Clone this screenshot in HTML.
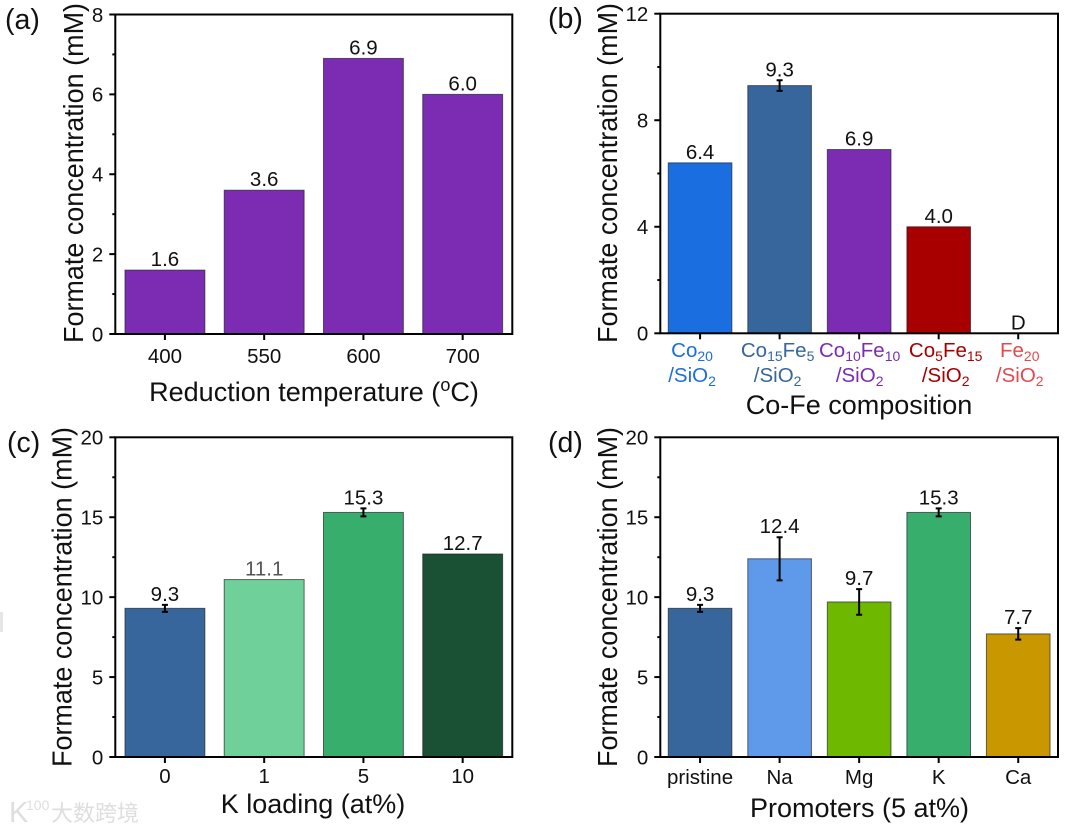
<!DOCTYPE html>
<html lang="en">
<head>
<meta charset="utf-8">
<title>Formate concentration bar charts</title>
<style>
html,body{margin:0;padding:0;background:#fff;width:1069px;height:830px;overflow:hidden}
svg{display:block;position:absolute;left:0;top:0;filter:blur(0.35px)}
text{font-family:"Liberation Sans","Noto Sans CJK SC",sans-serif;fill:#111}
</style>
</head>
<body>
<svg id="fig" xmlns="http://www.w3.org/2000/svg" width="1069" height="830" viewBox="0 0 1069 830">
  <rect x="0" y="612" width="3" height="20" fill="#e6e6e6"></rect>
  <g>
    <text x="9" y="822" font-size="29" style="fill:#dedede">K</text>
    <text x="26" y="810" font-size="14" style="fill:#dedede">100</text>
    <text x="51" y="821" font-size="22" style="fill:#dedede">大数跨境</text>
  </g>
</svg>
<script>
// Panel (a)
var aCategories = ['400', '550', '600', '700'];
var aValues = [1.6, 3.6, 6.9, 6.0];
var aLabels = ['1.6', '3.6', '6.9', '6.0'];
var aErrors = [0, 0, 0, 0];
var aTicks = [0, 2, 4, 6, 8];
var aMinorTicks = [1, 3, 5, 7];
var aColors = ['#7B2CB3', '#7B2CB3', '#7B2CB3', '#7B2CB3'];

// Panel (b)
var bCategories = ['Co20', 'Co15Fe5', 'Co10Fe10', 'Co5Fe15', 'Fe20'];
var bSecondLine = ['/SiO2', '/SiO2', '/SiO2', '/SiO2', '/SiO2'];
var bValues = [6.4, 9.3, 6.9, 4.0, 0];
var bLabels = ['6.4', '9.3', '6.9', '4.0', 'D'];
var bErrors = [0, 0.2, 0, 0, 0];
var bTicks = [0, 4, 8, 12];
var bMinorTicks = [2, 6, 10];
var bColors = ['#1A6EDF', '#36669C', '#7B2CB3', '#A80000', '#E5484D'];
var bLabelNudge = [-8, -2, 0.5, 7, 1.5];

// Panel (c)
var cCategories = ['0', '1', '5', '10'];
var cValues = [9.3, 11.1, 15.3, 12.7];
var cLabels = ['9.3', '11.1', '15.3', '12.7'];
var cErrors = [0.22, 0, 0.25, 0];
var cTicks = [0, 5, 10, 15, 20];
var cMinorTicks = [2.5, 7.5, 12.5, 17.5];
var cColors = ['#36669C', '#70D09A', '#38AE6C', '#1A5034'];

// Panel (d)
var dCategories = ['pristine', 'Na', 'Mg', 'K', 'Ca'];
var dValues = [9.3, 12.4, 9.7, 15.3, 7.7];
var dLabels = ['9.3', '12.4', '9.7', '15.3', '7.7'];
var dErrors = [0.22, 1.35, 0.8, 0.25, 0.36];
var dTicks = [0, 5, 10, 15, 20];
var dMinorTicks = [2.5, 7.5, 12.5, 17.5];
var dColors = ['#36669C', '#5E9AE9', '#6FB800', '#38AE6C', '#C99700'];

var SVGNS = 'http://www.w3.org/2000/svg';
var root = document.getElementById('fig');

function make(tag, attrs, parent, txt) {
  var el = document.createElementNS(SVGNS, tag);
  for (var k in attrs) el.setAttribute(k, attrs[k]);
  if (txt !== undefined) el.textContent = txt;
  (parent || root).appendChild(el);
  return el;
}

// Writes text into a <text>, turning digits that follow letters into subscripts
function chemText(node, str, subSize) {
  var parts = str.split(/(\d+)/);
  parts.forEach(function (p, i) {
    if (!p) return;
    var isSub = i % 2 === 1;
    var span = make('tspan', isSub ? {'font-size': subSize, dy: 4} : {dy: (i > 0 ? -4 : 0)}, node, p);
    
    
  });
}

function drawPanel(p) {
  var g = make('g', {});
  
  

  var n = p.categories.length;
  var step = (p.x1 - p.x0) / n;
  var barW = step * p.barFrac;
  function xScale(i) { return p.x0 + step * (i + 0.5); }
  function yScale(v) { return p.y0 + (p.y1 - p.y0) * (v - p.ymin) / (p.ymax - p.ymin); }

  p.values.forEach(function (v, i) {
    if (v <= 0) return;
    var bar = make('rect', {
      x: xScale(i) - barW / 2, y: yScale(v), width: barW, height: yScale(p.ymin) - yScale(v),
      fill: p.colors[i], stroke: '#1c1c2a', 'stroke-opacity': 0.65, 'stroke-width': 1
    }, g);
    
    
  });

  p.errors.forEach(function (e, i) {
    if (!e) return;
    var cx = xScale(i);
    var top = yScale(p.values[i] + e);
    var bot = yScale(p.values[i] - e);
    var err = make('path', {
      d: 'M' + cx + ' ' + top + 'V' + bot + 'M' + (cx - 3) + ' ' + top + 'H' + (cx + 3) + 'M' + (cx - 3) + ' ' + bot + 'H' + (cx + 3),
      stroke: '#000', 'stroke-width': 2, fill: 'none'
    }, g);
    
    
  });

  p.labels.forEach(function (t, i) {
    var ref = yScale(p.values[i] + (p.errors[i] || 0));
    var lab = make('text', {
      x: xScale(i), y: ref - 4, 'text-anchor': 'middle', 'font-size': p.fontSize
    }, g, t);
    if (p.labelColors && p.labelColors[i]) lab.style.fill = p.labelColors[i];
    
    
  });

  var frame = make('rect', {
    x: p.x0, y: p.y1, width: p.x1 - p.x0, height: p.y0 - p.y1,
    fill: 'none', stroke: '#000', 'stroke-width': 2
  }, g);
  
  

  p.ticks.forEach(function (v) {
    var y = yScale(v);
    var tick = make('line', {x1: p.x0 - 6, x2: p.x0, y1: y, y2: y, stroke: '#000', 'stroke-width': 2}, g);
    
    
    var lab = make('text', {x: p.x0 - 12, y: y + 7.3, 'text-anchor': 'end', 'font-size': p.fontSize}, g, String(v));
    
    
  });

  p.minorTicks.forEach(function (v) {
    var y = yScale(v);
    var tick = make('line', {x1: p.x0 - 3, x2: p.x0, y1: y, y2: y, stroke: '#000', 'stroke-width': 2}, g);
    
    
  });

  p.categories.forEach(function (c, i) {
    var x = xScale(i);
    var tick = make('line', {x1: x, x2: x, y1: p.y0, y2: p.y0 + 6, stroke: '#000', 'stroke-width': 2}, g);
    
    
    if (p.secondLine) {
      var lx = x + p.labelNudge[i];
      var l1 = make('text', {x: lx, y: 357, 'text-anchor': 'middle', 'font-size': p.fontSize}, g);
      l1.style.fill = p.colors[i];
      chemText(l1, c, 14);
      
      
      var l2 = make('text', {x: lx, y: 382, 'text-anchor': 'middle', 'font-size': p.fontSize}, g);
      l2.style.fill = p.colors[i];
      chemText(l2, p.secondLine[i], 14);
      
      
    } else {
      var lab = make('text', {x: x, y: p.tickBase, 'text-anchor': 'middle', 'font-size': p.fontSize}, g, c);
      
      
    }
  });

  var xt = make('text', {x: p.xTitleX, y: p.xTitleY, 'text-anchor': 'middle', 'font-size': 27}, g);
  
  
  if (p.xTitleSup) {
    xt.appendChild(document.createTextNode(p.xTitle[0]));
    var sup = make('tspan', {'font-size': 18, dy: -10}, xt, p.xTitleSup);
    
    
    var rest = make('tspan', {dy: 10}, xt, p.xTitle[1]);
    
    
  } else {
    xt.textContent = p.xTitle;
  }

  var yt = make('text', {
    x: 0, y: 0, 'text-anchor': 'middle', 'font-size': 28, textLength: 340, lengthAdjust: 'spacingAndGlyphs',
    transform: 'translate(' + p.yTitleX + ' ' + p.yTitleY + ') rotate(-90)'
  }, g, 'Formate concentration (mM)');
  
  

  var letter = make('text', {x: p.letterX, y: p.letterY, 'font-size': 28.5}, g, '(' + p.id + ')');
  
  
}

drawPanel({
  id: 'a', x0: 115.3, x1: 512.3, y0: 334, y1: 14.5, ymin: 0, ymax: 8, barFrac: 0.805, fontSize: 20.5,
  categories: aCategories, values: aValues, labels: aLabels, errors: aErrors, ticks: aTicks, minorTicks: aMinorTicks, colors: aColors,
  tickBase: 363, xTitle: ['Reduction temperature (', 'C)'], xTitleSup: 'o', xTitleX: 314, xTitleY: 401,
  yTitleX: 83, yTitleY: 173, letterX: 5, letterY: 29
});
drawPanel({
  id: 'b', x0: 660.3, x1: 1058, y0: 333.3, y1: 13.7, ymin: 0, ymax: 12, barFrac: 0.8, fontSize: 20.5,
  categories: bCategories, secondLine: bSecondLine, labelNudge: bLabelNudge, values: bValues, labels: bLabels, errors: bErrors, ticks: bTicks, minorTicks: bMinorTicks, colors: bColors,
  xTitle: 'Co-Fe composition', xTitleX: 859, xTitleY: 414,
  yTitleX: 617, yTitleY: 173, letterX: 548, letterY: 28
});
drawPanel({
  id: 'c', x0: 115.3, x1: 512.3, y0: 757, y1: 437.3, ymin: 0, ymax: 20, barFrac: 0.805, fontSize: 20.5,
  categories: cCategories, values: cValues, labels: cLabels, labelColors: ['', '#555', '', ''], errors: cErrors, ticks: cTicks, minorTicks: cMinorTicks, colors: cColors,
  tickBase: 783, xTitle: 'K loading (at%)', xTitleX: 313, xTitleY: 813,
  yTitleX: 71.5, yTitleY: 597, letterX: 7, letterY: 452
});
drawPanel({
  id: 'd', x0: 660.3, x1: 1058, y0: 757, y1: 437.3, ymin: 0, ymax: 20, barFrac: 0.8, fontSize: 20.5,
  categories: dCategories, values: dValues, labels: dLabels, errors: dErrors, ticks: dTicks, minorTicks: dMinorTicks, colors: dColors,
  tickBase: 784, xTitle: 'Promoters (5 at%)', xTitleX: 859.5, xTitleY: 817,
  yTitleX: 617, yTitleY: 597, letterX: 548, letterY: 452
});
</script>
</body>
</html>
